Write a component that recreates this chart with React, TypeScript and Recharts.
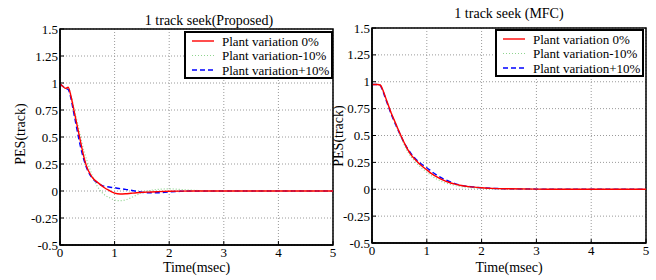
import React from 'react';
import { LineChart, Line, XAxis, YAxis, CartesianGrid, ReferenceArea } from 'recharts';

const time = [0, 0.05, 0.1, 0.15, 0.2, 0.25, 0.3, 0.35, 0.4, 0.45, 0.5, 0.55, 0.6, 0.7, 0.8, 0.9, 1.0, 1.1, 1.2, 1.3, 1.4, 1.5, 1.6, 1.8, 2.0, 2.2, 2.5, 3, 3.5, 4, 4.5, 5];

const proposedNominal = [0.99, 0.97, 0.95, 0.96, 0.88, 0.76, 0.64, 0.52, 0.4, 0.29, 0.21, 0.16, 0.12, 0.075, 0.035, 0.005, -0.02, -0.028, -0.026, -0.021, -0.016, -0.013, -0.01, -0.006, -0.003, -0.001, 0, 0, 0, 0, 0, 0];
const proposedMinus = [0.99, 0.97, 0.95, 0.95, 0.89, 0.78, 0.67, 0.56, 0.45, 0.35, 0.27, 0.2, 0.13, 0.03, -0.03, -0.06, -0.083, -0.09, -0.082, -0.062, -0.038, -0.015, 0.0, 0.015, 0.02, 0.015, 0.005, 0, 0, 0, 0, 0];
const proposedPlus = [0.99, 0.97, 0.95, 0.94, 0.86, 0.73, 0.6, 0.47, 0.36, 0.27, 0.2, 0.15, 0.115, 0.07, 0.045, 0.037, 0.03, 0.022, 0.015, 0.006, -0.004, -0.012, -0.017, -0.016, -0.008, -0.003, 0, 0, 0, 0, 0, 0];

const mfcNominal = [0.975, 0.975, 0.975, 0.97, 0.92, 0.85, 0.78, 0.71, 0.65, 0.59, 0.53, 0.475, 0.42, 0.33, 0.27, 0.22, 0.18, 0.14, 0.11, 0.085, 0.065, 0.05, 0.037, 0.022, 0.014, 0.008, 0.004, 0.001, 0, 0, 0, 0];
const mfcMinus = [0.975, 0.975, 0.975, 0.97, 0.92, 0.85, 0.78, 0.71, 0.645, 0.58, 0.52, 0.46, 0.4, 0.31, 0.25, 0.2, 0.16, 0.12, 0.09, 0.066, 0.05, 0.036, 0.026, 0.014, 0.008, 0.004, 0.002, 0, 0, 0, 0, 0];
const mfcPlus = [0.975, 0.975, 0.975, 0.965, 0.91, 0.84, 0.77, 0.7, 0.64, 0.58, 0.525, 0.47, 0.42, 0.34, 0.28, 0.235, 0.2, 0.16, 0.125, 0.097, 0.075, 0.055, 0.04, 0.024, 0.014, 0.008, 0.004, 0.001, 0, 0, 0, 0];

const xTicks = [0, 1, 2, 3, 4, 5];
const yTicks = [-0.5, -0.25, 0, 0.25, 0.5, 0.75, 1, 1.25, 1.5];
const seriesNames = ['Plant variation 0%', 'Plant variation-10%', 'Plant variation+10%'];
const titles = ['1 track seek(Proposed)', '1 track seek (MFC)'];
const xLabel = 'Time(msec)';
const yLabel = 'PES(track)';

const FONT = "'Liberation Serif', 'Times New Roman', Times, serif";

const styles = [
  { stroke: '#ff0000', dash: undefined as string | undefined, width: 1.4 },
  { stroke: '#8fd48f', dash: '1 2', width: 1.2 },
  { stroke: '#0000ff', dash: '5 3', width: 1.5 },
];

function buildData(a: number[], b: number[], c: number[]) {
  return time.map((t, i) => ({ t, s0: a[i], s1: b[i], s2: c[i] }));
}

const LegendBox = ({ x, y }: { x: number; y: number }) => (
  <svg
    width={149}
    height={48}
    style={{ position: 'absolute', left: x - 1, top: y - 1, display: 'block', overflow: 'visible' }}
  >
    <rect x={1} y={1} width={147} height={46} fill="#ffffff" stroke="#000000" strokeWidth={2} />
    {seriesNames.map((n, i) => (
      <g key={n}>
        <line x1={8} y1={10 + i * 14.5} x2={30} y2={10 + i * 14.5} stroke={styles[i].stroke} strokeWidth={styles[i].width} strokeDasharray={styles[i].dash} />
        <text x={38} y={14.5 + i * 14.5} fontSize={13} fontFamily={FONT} fill="#000">
          {n}
        </text>
      </g>
    ))}
  </svg>
);

type PanelProps = {
  data: any[];
  title: string;
  left: number;
  marginTop: number;
  marginRight: number;
  yAxisWidth: number;
  xAxisHeight: number;
  titleX: number;
  titleY: number;
  yLabelX: number;
  yLabelY: number;
  legendLeft: number;
  legendTop: number;
};

function Panel(p: PanelProps) {
  const plotLeft = p.yAxisWidth;
  const plotRight = 340 - p.marginRight;
  return (
    <div style={{ position: 'absolute', left: p.left, top: 0, width: 340, height: 280 }}>
      <LineChart
        width={340}
        height={280}
        data={p.data}
        margin={{ top: p.marginTop, right: p.marginRight, bottom: 0, left: 0 }}
        style={{ fontFamily: FONT }}
      >
        <CartesianGrid stroke="#9a9a9a" strokeDasharray="1 2" strokeWidth={1} vertical horizontal />
        <XAxis
          dataKey="t"
          type="number"
          domain={[0, 5]}
          ticks={xTicks}
          height={p.xAxisHeight}
          axisLine={{ stroke: '#000', strokeWidth: 1.5 }}
          tickLine={{ stroke: '#000' }}
          tickSize={-4}
          tickMargin={7}
          tick={{ fill: '#000', fontSize: 13, fontFamily: FONT }}
          interval={0}
          allowDataOverflow
        />
        <YAxis
          type="number"
          domain={[-0.5, 1.5]}
          ticks={yTicks}
          width={p.yAxisWidth}
          axisLine={{ stroke: '#000', strokeWidth: 1.5 }}
          tickLine={{ stroke: '#000' }}
          tickSize={-4}
          tickMargin={6}
          tick={{ fill: '#000', fontSize: 13, fontFamily: FONT }}
          interval={0}
          allowDataOverflow
        />
        <ReferenceArea x1={0} x2={5} y1={-0.5} y2={1.5} fill="none" fillOpacity={0} stroke="#000" strokeWidth={1.5} ifOverflow="extendDomain" />
        {['s2', 's1', 's0'].map((k) => {
          const i = Number(k[1]);
          return (
            <Line
              key={k}
              dataKey={k}
              name={seriesNames[i]}
              type="monotone"
              stroke={styles[i].stroke}
              strokeWidth={styles[i].width}
              strokeDasharray={styles[i].dash}
              dot={false}
              activeDot={false}
              isAnimationActive={false}
            />
          );
        })}
        <text x={p.titleX} y={p.titleY} textAnchor="middle" fontSize={14} fontFamily={FONT} fill="#000">
          {p.title}
        </text>
        <text x={(plotLeft + plotRight) / 2} y={272} textAnchor="middle" fontSize={14} fontFamily={FONT} fill="#000">
          {xLabel}
        </text>
        <text
          x={p.yLabelX}
          y={p.yLabelY}
          textAnchor="middle"
          dominantBaseline="central"
          fontSize={14}
          fontFamily={FONT}
          fill="#000"
          transform={`rotate(-90 ${p.yLabelX} ${p.yLabelY})`}
        >
          {yLabel}
        </text>
      </LineChart>
      <LegendBox x={p.legendLeft} y={p.legendTop} />
    </div>
  );
}

export default function App() {
  const leftData = buildData(proposedNominal, proposedMinus, proposedPlus);
  const rightData = buildData(mfcNominal, mfcMinus, mfcPlus);
  return (
    <div style={{ position: 'absolute', left: 0, top: 0, width: 656, height: 280, background: '#fff', overflow: 'hidden' }}>
      <Panel
        data={leftData}
        title={titles[0]}
        left={0}
        marginTop={29}
        marginRight={7}
        yAxisWidth={60}
        xAxisHeight={35}
        titleX={209}
        titleY={25}
        yLabelX={20}
        yLabelY={134}
        legendLeft={185}
        legendTop={32}
      />
      <Panel
        data={rightData}
        title={titles[1]}
        left={316}
        marginTop={28}
        marginRight={10}
        yAxisWidth={56}
        xAxisHeight={37}
        titleX={193}
        titleY={18}
        yLabelX={22}
        yLabelY={136}
        legendLeft={180}
        legendTop={30}
      />
    </div>
  );
}
